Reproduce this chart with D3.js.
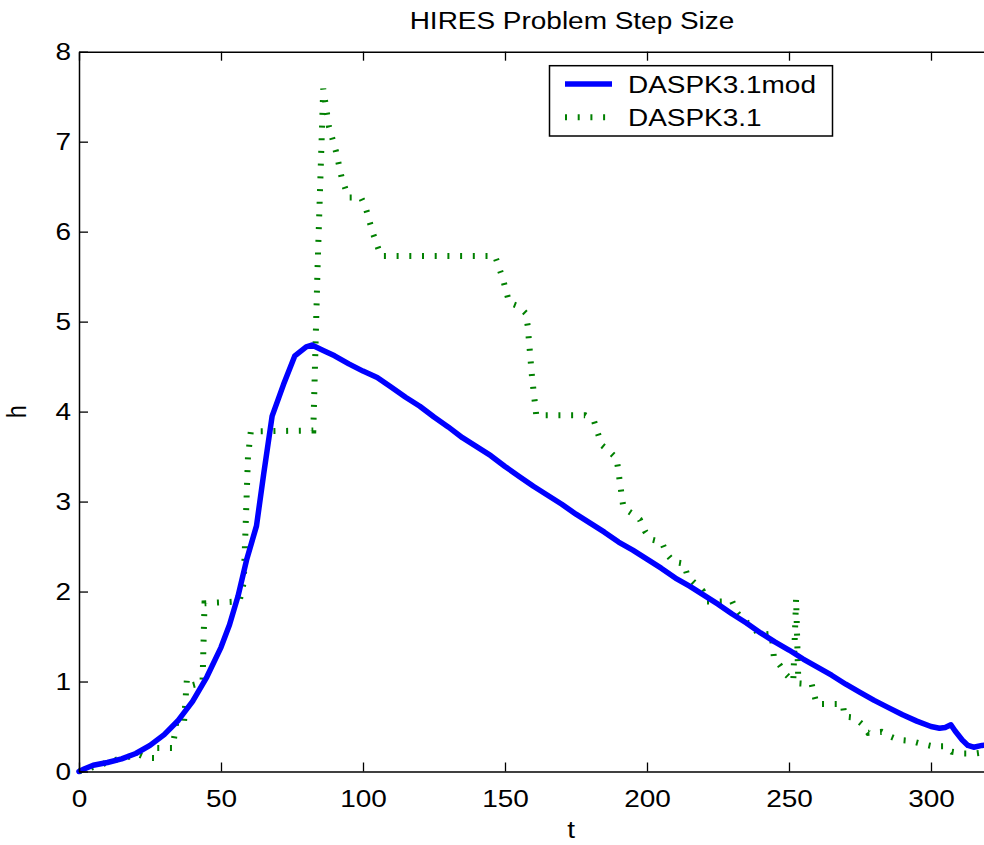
<!DOCTYPE html>
<html>
<head>
<meta charset="utf-8">
<script src="https://cdn.jsdelivr.net/npm/d3@7"></script>
<style>
  body { margin: 0; background: #fff; }
  svg { display: block; }
</style>
</head>
<body>
<svg id="chart" width="984" height="845"></svg>
<script>
// DASPK3.1mod step size (solid blue)
const tMod = [0, 2, 5, 10, 15, 20, 25, 30, 35, 40, 45, 50, 53, 56, 59, 62.5, 65, 68, 72, 76, 80, 82,
  86, 90, 95, 100, 105, 110, 115, 120, 125, 130, 135, 140, 145, 150, 155, 160, 165, 170, 175, 180,
  185, 190, 195, 200, 205, 210, 215, 220, 225, 230, 235, 240, 245, 250, 255, 260, 265, 270, 275,
  280, 285, 290, 295, 300, 303, 305, 307, 308.5, 311, 313, 315, 318, 322];
const hMod = [0, 0.03, 0.07, 0.1, 0.14, 0.2, 0.29, 0.41, 0.57, 0.78, 1.05, 1.38, 1.63, 1.95, 2.35, 2.73, 3.3, 3.95, 4.3, 4.62, 4.72, 4.74,
  4.68, 4.62, 4.53, 4.45, 4.38, 4.27, 4.16, 4.06, 3.94, 3.83, 3.71, 3.61, 3.51, 3.39, 3.28, 3.17, 3.07, 2.97, 2.86, 2.76,
  2.66, 2.55, 2.46, 2.36, 2.26, 2.15, 2.06, 1.96, 1.86, 1.75, 1.65, 1.54, 1.44, 1.35, 1.25, 1.16, 1.07, 0.97, 0.88,
  0.79, 0.71, 0.63, 0.56, 0.5, 0.48, 0.49, 0.52, 0.45, 0.35, 0.29, 0.27, 0.29, 0.3];

// DASPK3.1 step size (dotted green)
const tOrig = [0, 3, 6, 10, 14, 17, 21, 24, 26.5, 27.5, 33, 34.3, 37, 38, 40, 43.5, 44.2, 56.5, 58, 59.5, 60.5,
  82.5, 84, 86, 88, 90.5, 92.5, 94.8, 99.3, 101, 103.4, 106.3, 146.5, 149.2, 151.5, 154.8, 157.4, 158, 159.5, 161,
  178.2, 181.3, 184, 186.7, 189.3, 191.7, 194.6, 197.5, 199.3, 201.3, 205.2, 206.9, 209.3, 213, 214.3, 216.9, 219.6,
  221, 230, 231.6, 233.7, 236.8, 239.5, 243.9, 244.7, 246.8, 248.9, 251.5, 252.5, 253.3, 258, 259.7, 269, 269.5,
  272.9, 275.6, 277.9, 282.6, 285.6, 288.8, 292.8, 296.4, 300.6, 305.2, 307.3, 311.2, 315.5, 320];
const hOrig = [0, 0.03, 0.06, 0.1, 0.14, 0.16, 0.19, 0.15, 0.15, 0.26, 0.26, 0.56, 0.56, 1.03, 0.96, 0.99, 1.87, 1.89, 2.1, 3.5, 3.78,
  3.79, 5.6, 7.59, 7.17, 6.89, 6.6, 6.38, 6.38, 6.26, 5.99, 5.73, 5.73, 5.48, 5.21, 5.17, 5.09, 4.95, 4.39, 3.96,
  3.96, 3.9, 3.63, 3.56, 3.48, 2.93, 2.87, 2.8, 2.67, 2.58, 2.55, 2.42, 2.33, 2.31, 2.17, 2.09, 2.01,
  1.89, 1.89, 1.77, 1.69, 1.62, 1.52, 1.53, 1.26, 1.18, 1.08, 1.0, 1.92, 0.98, 0.97, 0.75, 0.75, 0.61,
  0.6, 0.53, 0.43, 0.44, 0.39, 0.35, 0.34, 0.31, 0.28, 0.28, 0.22, 0.2, 0.2, 0.22];

const xTicks = [0, 50, 100, 150, 200, 250, 300];
const yTicks = [0, 1, 2, 3, 4, 5, 6, 7, 8];
const seriesNames = ['DASPK3.1mod', 'DASPK3.1'];

const FONT = '"Liberation Sans", Arial, Helvetica, sans-serif';
const FONT_SIZE = 23.5;
const STRETCH = 1.19; // text in the figure is widened horizontally
const BLUE = '#0000ff';
const GREEN = '#008000';

const LEFT = 79, RIGHT = 1073, TOP = 51.7, BOTTOM = 771.5;

const svg = d3.select('#chart');

const x = d3.scaleLinear().domain([0, 350]).range([LEFT, RIGHT]);
const y = d3.scaleLinear().domain([0, 8]).range([BOTTOM, TOP]);

function stretchText(sel, tx, ty) {
    sel.attr('transform', `translate(${tx},${ty}) scale(${STRETCH},1)`)
        .attr('x', 0).attr('y', 0)
        .style('font-family', FONT)
        .style('font-size', FONT_SIZE + 'px')
        .attr('fill', '#000');
}

// lines
const line = d3.line().x(d => x(d[0])).y(d => y(d[1]));

svg.append('path')
    .datum(d3.zip(tOrig, hOrig))
    .attr('d', line)
    .attr('fill', 'none')
    .attr('stroke', GREEN)
    .attr('stroke-width', 6)
    .attr('stroke-dasharray', '2 10.7');

svg.append('path')
    .datum(d3.zip(tMod, hMod))
    .attr('d', line)
    .attr('fill', 'none')
    .attr('stroke', BLUE)
    .attr('stroke-width', 5.5)
    .attr('stroke-linejoin', 'round')
    .attr('stroke-linecap', 'round');

// axes (ticks point inward, box style)
const axBottom = svg.append('g')
    .attr('transform', `translate(0,${BOTTOM})`)
    .call(d3.axisBottom(x).tickValues(xTicks).tickSize(-9).tickSizeOuter(0).tickFormat(d3.format('d')));
const axTop = svg.append('g')
    .attr('transform', `translate(0,${TOP})`)
    .call(d3.axisTop(x).tickValues(xTicks).tickSize(-9).tickSizeOuter(0).tickFormat(''));
const axLeft = svg.append('g')
    .attr('transform', `translate(${LEFT},0)`)
    .call(d3.axisLeft(y).tickValues(yTicks).tickSize(-9).tickSizeOuter(0).tickFormat(d3.format('d')));
const axRight = svg.append('g')
    .attr('transform', `translate(${RIGHT},0)`)
    .call(d3.axisRight(y).tickValues(yTicks).tickSize(-9).tickSizeOuter(0).tickFormat(''));

[axBottom, axTop, axLeft, axRight].forEach(a => {
    a.select('.domain').attr('stroke', '#000').attr('stroke-width', 1.5);
    a.selectAll('.tick line').attr('stroke', '#000').attr('stroke-width', 1.3);
});

axBottom.selectAll('.tick text').each(function () {
    d3.select(this).attr('dy', null).attr('text-anchor', 'middle');
    stretchText(d3.select(this), 0, 35.5);
});
axLeft.selectAll('.tick text').each(function () {
    d3.select(this).attr('dy', '0.35em').attr('text-anchor', 'end');
    stretchText(d3.select(this), -8, 0);
});

// title and axis labels
const midX = (LEFT + RIGHT) / 2 - 4;
svg.append('text')
    .attr('text-anchor', 'middle')
    .call(stretchText, midX, 29)
    .text('HIRES Problem Step Size');

svg.append('text')
    .attr('text-anchor', 'middle')
    .call(stretchText, midX - 1, 838)
    .text('t');

svg.append('text')
    .attr('text-anchor', 'middle')
    .call(stretchText, 0, 0)
    .attr('transform', `translate(26,${(TOP + BOTTOM) / 2}) scale(${STRETCH},1) rotate(-90)`)
    .text('h');

// legend
const legend = svg.append('g');
legend.append('rect')
    .attr('x', 549.5).attr('y', 65.7)
    .attr('width', 283).attr('height', 70.3)
    .attr('fill', '#fff')
    .attr('stroke', '#000')
    .attr('stroke-width', 1.5);

const legendRows = [
    { name: seriesNames[0], color: BLUE, width: 5.5, dash: null, cy: 84 },
    { name: seriesNames[1], color: GREEN, width: 6, dash: '2 10.7', cy: 117.3 }
];
legendRows.forEach(r => {
    legend.append('line')
        .attr('x1', 565).attr('x2', 612)
        .attr('y1', r.cy).attr('y2', r.cy)
        .attr('stroke', r.color)
        .attr('stroke-width', r.width)
        .attr('stroke-dasharray', r.dash);
    legend.append('text')
        .attr('text-anchor', 'start')
        .call(stretchText, 628, r.cy + 8.6)
        .text(r.name);
});
</script>
</body>
</html>
